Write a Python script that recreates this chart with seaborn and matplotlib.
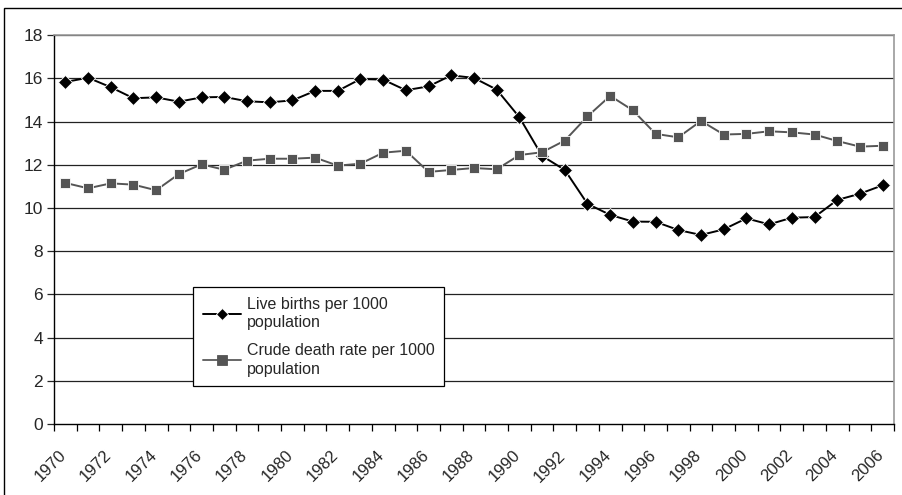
#!/usr/bin/env python3
"""
Live births and crude death rate per 1000 population, 1970-2006
"""

import numpy as np
import pandas as pd
import matplotlib
matplotlib.use('Agg')  # Non-interactive backend
import matplotlib.pyplot as plt
import matplotlib.transforms as mtransforms
from matplotlib.patches import Rectangle
import seaborn as sns

# Data
years = list(range(1970, 2007))
live_births = [15.83, 16.03, 15.59, 15.08, 15.12, 14.92, 15.12, 15.14, 14.94, 14.89,
               14.98, 15.42, 15.42, 15.97, 15.94, 15.45, 15.63, 16.14, 16.02, 15.48,
               14.20, 12.41, 11.76, 10.19, 9.68, 9.37, 9.36, 8.98, 8.75, 9.01,
               9.52, 9.24, 9.55, 9.58, 10.37, 10.66, 11.05]
death_rate = [11.16, 10.91, 11.14, 11.08, 10.82, 11.57, 12.02, 11.77, 12.19, 12.28,
              12.28, 12.33, 11.96, 12.05, 12.56, 12.65, 11.67, 11.76, 11.85, 11.79,
              12.45, 12.58, 13.12, 14.24, 15.19, 14.52, 13.43, 13.27, 14.03, 13.40,
              13.43, 13.55, 13.50, 13.40, 13.10, 12.84, 12.88]
series_names = ['Live births per 1000\npopulation', 'Crude death rate per 1000\npopulation']
y_ticks = [0, 2, 4, 6, 8, 10, 12, 14, 16, 18]

df = pd.DataFrame({
    'Year': years * 2,
    'Rate': live_births + death_rate,
    'Series': [series_names[0]] * len(years) + [series_names[1]] * len(years),
})

sns.set_style("white")
plt.rcParams['font.family'] = ['Liberation Sans', 'DejaVu Sans']

fig = plt.figure(figsize=(9.03, 4.95), dpi=100)
ax = fig.add_axes([0.0598, 0.1434, 0.9302, 0.7856])

# outer chart frame (cropped at right/bottom in the reference)
fig.patches.append(Rectangle((4 / 903, -0.05), 1.05, 0.05 + (495 - 8) / 495,
                             transform=fig.transFigure, fill=False,
                             edgecolor='black', linewidth=1.0))

# Gridlines
for yv in y_ticks[1:]:
    ax.axhline(yv, color='#222222', linewidth=0.9, zorder=1)

sns.lineplot(data=df, x='Year', y='Rate', hue='Series', style='Series',
             palette=['black', '#555555'], markers=['D', 's'], dashes=False,
             markersize=7, linewidth=1.4, markeredgewidth=0.6, ax=ax, zorder=3)

# Per-series marker sizes (diamond smaller than square)
lines = ax.get_lines()[-2:]
lines[0].set_markersize(6.5)
lines[1].set_color('#666666')
lines[1].set_markerfacecolor('#555555')
lines[1].set_markeredgecolor('#555555')
lines[1].set_markersize(7.5)

ax.set_xlim(1969.5, 2006.5)
ax.set_ylim(0, 18)
ax.set_yticks(y_ticks)
ax.set_xticks(years[::2])
ax.set_xticklabels([str(y) for y in years[::2]], rotation=45, ha='right',
                   rotation_mode='anchor')
ax.set_xticks(np.arange(1969.5, 2007.0, 1.0), minor=True)
ax.tick_params(axis='x', which='major', length=0, pad=17, labelsize=12)
ax.tick_params(axis='x', which='minor', length=5, width=0.9, direction='out',
               color='black', bottom=True)
ax.tick_params(axis='y', length=5, width=0.9, direction='out', left=True,
               labelsize=12.5, pad=3)
ax.set_xlabel('')
ax.set_ylabel('')

# shift x labels a little left of the category centre
shift = mtransforms.ScaledTranslation(-7 / 100, 0, fig.dpi_scale_trans)
for lbl in ax.get_xticklabels():
    lbl.set_transform(lbl.get_transform() + shift)

for side in ['top', 'right']:
    ax.spines[side].set_color('#999999')
    ax.spines[side].set_linewidth(1.2)
for side in ['left', 'bottom']:
    ax.spines[side].set_color('black')
    ax.spines[side].set_linewidth(1.0)

handles, labels = ax.get_legend_handles_labels()
leg = ax.legend(handles[-2:], labels[-2:], loc='upper left',
                bbox_to_anchor=(0.1655, 0.352), fontsize=11.5, frameon=True,
                fancybox=False, edgecolor='black', framealpha=1,
                handlelength=2.4, handletextpad=0.35, borderpad=0.6,
                borderaxespad=0, labelspacing=0.8)
leg.get_frame().set_linewidth(0.9)
for txt in leg.get_texts():
    txt.set_linespacing(1.3)

plt.savefig('out.png', dpi=100)
plt.close()
